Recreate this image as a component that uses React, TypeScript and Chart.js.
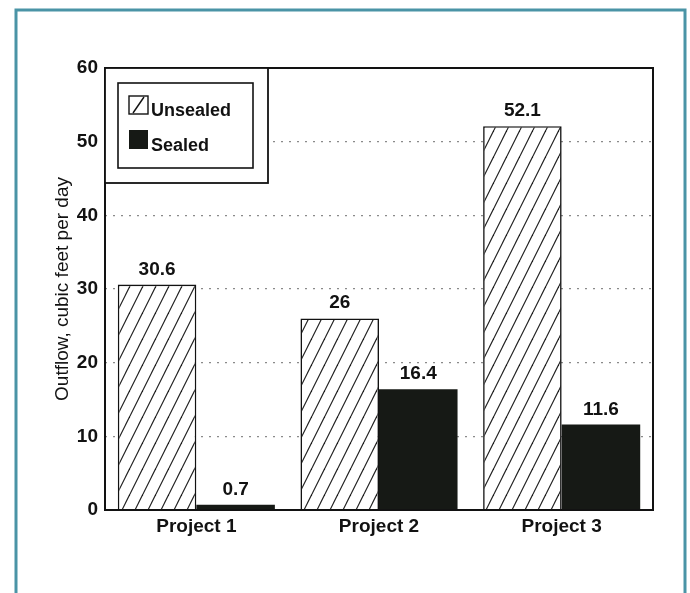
import React, { useEffect, useRef } from "react";
import { Chart, registerables } from "chart.js";

Chart.register(...registerables);

const categories = ["Project 1", "Project 2", "Project 3"];
const unsealedValues = [30.6, 26, 52.1];
const sealedValues = [0.7, 16.4, 11.6];
const seriesLabels = ["Unsealed", "Sealed"];
const yTitle = "Outflow, cubic feet per day";
const yMin = 0;
const yMax = 60;
const yStep = 10;

const FONT = "'Liberation Sans', Arial, Helvetica, sans-serif";
const INK = "#121212";
const SEALED = "#161915";
const TEAL = "#4a94a6";

function makeHatch(): CanvasPattern | string {
  const c = document.createElement("canvas");
  c.width = 13;
  c.height = 26;
  const g = c.getContext("2d");
  if (!g) return "#fff";
  g.fillStyle = "#ffffff";
  g.fillRect(0, 0, 13, 26);
  g.strokeStyle = "#1c1c1c";
  g.lineWidth = 1.2;
  for (let k = -1; k <= 1; k++) {
    g.beginPath();
    g.moveTo(k * 13, 26);
    g.lineTo(k * 13 + 13, 0);
    g.stroke();
  }
  const p = g.createPattern(c, "repeat");
  return p || "#fff";
}

const pagePlugin = {
  id: "pageFrame",
  beforeDraw(chart: any) {
    const ctx = chart.ctx;
    ctx.save();
    ctx.fillStyle = "#ffffff";
    ctx.fillRect(0, 0, chart.width, chart.height);
    ctx.strokeStyle = TEAL;
    ctx.lineWidth = 3;
    ctx.strokeRect(16, 10, 669, 640);
    ctx.restore();
  },
};

const valueLabelPlugin = {
  id: "valueLabels",
  afterDatasetsDraw(chart: any) {
    const ctx = chart.ctx;
    ctx.save();
    ctx.font = `bold 19px ${FONT}`;
    ctx.fillStyle = INK;
    ctx.textAlign = "center";
    ctx.textBaseline = "alphabetic";
    chart.data.datasets.forEach((ds: any, di: number) => {
      const meta = chart.getDatasetMeta(di);
      meta.data.forEach((bar: any, i: number) => {
        const v = ds.data[i];
        ctx.fillText(String(v), bar.x, bar.y - 10);
      });
    });
    ctx.restore();
  },
};

const framePlugin = {
  id: "plotFrame",
  afterDraw(chart: any) {
    const { ctx, chartArea } = chart;
    const { left, top, right, bottom } = chartArea;
    ctx.save();
    ctx.strokeStyle = INK;
    ctx.lineWidth = 2;
    ctx.strokeRect(left, top, right - left, bottom - top);

    // legend box
    const ow = 163;
    const oh = 115;
    ctx.fillStyle = "#ffffff";
    ctx.fillRect(left, top, ow, oh);
    ctx.lineWidth = 1.8;
    ctx.strokeRect(left, top, ow, oh);
    ctx.lineWidth = 1.6;
    ctx.strokeRect(left + 13, top + 15, ow - 28, oh - 30);

    const ds = chart.data.datasets;
    // unsealed swatch
    const sx = left + 24;
    const s1y = top + 28;
    ctx.fillStyle = "#ffffff";
    ctx.fillRect(sx, s1y, 19, 18);
    ctx.lineWidth = 1.4;
    ctx.strokeRect(sx, s1y, 19, 18);
    ctx.beginPath();
    ctx.moveTo(sx + 4, s1y + 17);
    ctx.lineTo(sx + 15, s1y + 1);
    ctx.stroke();
    // sealed swatch
    const s2y = top + 62;
    ctx.fillStyle = SEALED;
    ctx.fillRect(sx, s2y, 19, 19);

    ctx.fillStyle = INK;
    ctx.font = `bold 18px ${FONT}`;
    ctx.textAlign = "left";
    ctx.textBaseline = "alphabetic";
    ctx.fillText(ds[0].label, sx + 22, top + 48);
    ctx.fillText(ds[1].label, sx + 22, top + 83);
    ctx.restore();
  },
};

export default function App() {
  const ref = useRef<HTMLCanvasElement | null>(null);

  useEffect(() => {
    if (!ref.current) return;
    const hatch = makeHatch();
    const chart = new Chart(ref.current, {
      type: "bar",
      data: {
        labels: categories,
        datasets: [
          {
            label: seriesLabels[0],
            data: unsealedValues,
            backgroundColor: hatch as any,
            borderColor: INK,
            borderWidth: 1.6,
            categoryPercentage: 0.86,
            barPercentage: 1,
          },
          {
            label: seriesLabels[1],
            data: sealedValues,
            backgroundColor: SEALED,
            borderWidth: 0,
            categoryPercentage: 0.86,
            barPercentage: 1,
          },
        ],
      },
      options: {
        responsive: false,
        animation: false,
        devicePixelRatio: 1,
        layout: { padding: { left: 30, top: 68, right: 37, bottom: 43 } },
        plugins: {
          legend: { display: false },
          tooltip: { enabled: false },
        },
        scales: {
          x: {
            grid: { display: false, drawTicks: false },
            border: { display: false },
            ticks: {
              color: INK,
              padding: 5,
              font: { family: FONT, size: 19, weight: "bold" },
            },
            afterFit: (s: any) => {
              s.height = 40;
            },
          },
          y: {
            min: yMin,
            max: yMax,
            grid: {
              color: "#8a8a8a",
              lineWidth: 1.2,
              drawTicks: false,
            },
            border: { display: false, dash: [2, 6] },
            ticks: {
              stepSize: yStep,
              color: INK,
              padding: 7,
              font: { family: FONT, size: 19, weight: "bold" },
            },
            title: {
              display: true,
              text: yTitle,
              color: INK,
              padding: { top: 21, bottom: 0 },
              font: { family: FONT, size: 19, weight: "normal" },
            },
            afterFit: (s: any) => {
              s.width = 75;
            },
          },
        },
      },
      plugins: [pagePlugin, valueLabelPlugin, framePlugin],
    });
    return () => chart.destroy();
  }, []);

  return (
    <div style={{ position: "absolute", left: 0, top: 0, width: 690, height: 593 }}>
      <canvas ref={ref} width={690} height={593} style={{ width: 690, height: 593 }} />
    </div>
  );
}
